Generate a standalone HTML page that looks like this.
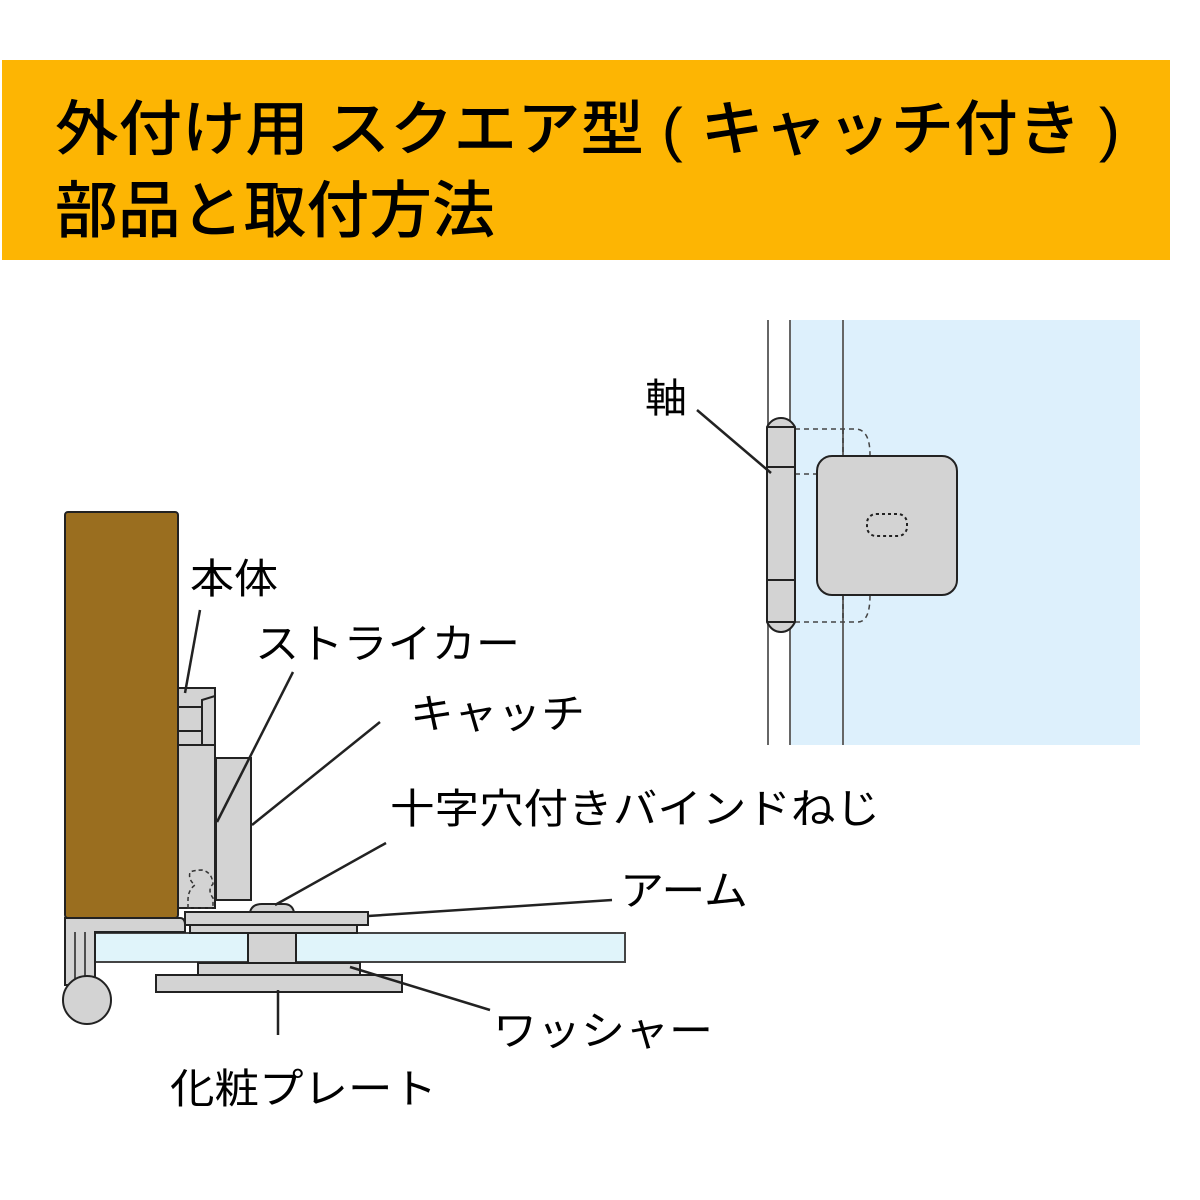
<!DOCTYPE html>
<html><head><meta charset="utf-8"><style>
html,body{margin:0;padding:0;background:#fff;}
svg{display:block;}
text{font-family:"Liberation Sans","Noto Sans CJK JP",sans-serif;fill:#000;}
</style></head><body>
<svg width="1200" height="1200" viewBox="0 0 1200 1200" xmlns="http://www.w3.org/2000/svg">
<rect x="2" y="60" width="1168" height="200" fill="#FDB503"/>
<text x="55" y="150" font-size="60" font-weight="500" textLength="1065" lengthAdjust="spacingAndGlyphs">外付け用 スクエア型 ( キャッチ付き )</text>
<text x="55" y="232" font-size="62" font-weight="500" textLength="440" lengthAdjust="spacingAndGlyphs">部品と取付方法</text>

<!-- right view -->
<rect x="790" y="320" width="350" height="425" fill="#DDF0FC"/>
<line x1="768" y1="320" x2="768" y2="745" stroke="#666" stroke-width="2"/>
<line x1="790" y1="320" x2="790" y2="745" stroke="#666" stroke-width="2"/>
<line x1="843" y1="320" x2="843" y2="745" stroke="#666" stroke-width="2"/>
<path d="M795 429 H855 Q870 429 870 455 M795 474 H817 M795 622 H858 Q870 622 870 595 M843 429 V455 M843 595 V622" fill="none" stroke="#444" stroke-width="1.5" stroke-dasharray="5,4"/>
<path d="M767 427 Q772 418 781 418 Q790 418 795 427 V622 Q790 632 781 632 Q772 632 767 622 Z" fill="#D3D3D3" stroke="#222" stroke-width="2"/>
<line x1="767" y1="427" x2="795" y2="427" stroke="#222" stroke-width="2"/>
<line x1="767" y1="467" x2="795" y2="467" stroke="#222" stroke-width="2"/>
<line x1="767" y1="580" x2="795" y2="580" stroke="#222" stroke-width="2"/>
<line x1="767" y1="622" x2="795" y2="622" stroke="#222" stroke-width="2"/>
<rect x="817" y="456" width="140" height="139" rx="15" fill="#D3D3D3" stroke="#222" stroke-width="2"/>
<rect x="867" y="514" width="40" height="22" rx="9" fill="none" stroke="#222" stroke-width="2" stroke-dasharray="3,3"/>
<text x="645" y="412" font-size="40" textLength="42" lengthAdjust="spacingAndGlyphs">軸</text>
<line x1="697" y1="410" x2="771" y2="473" stroke="#222" stroke-width="2.5"/>

<!-- left section -->
<rect x="95" y="933" width="530" height="29" fill="#E0F4FA" stroke="#444" stroke-width="2"/>
<path d="M65 918 H180 Q185 918 185 925 V932 H95 V985 H65 Z" fill="#D3D3D3" stroke="#222" stroke-width="2"/>
<line x1="75" y1="932" x2="75" y2="985" stroke="#222" stroke-width="1.5"/>
<line x1="85" y1="932" x2="85" y2="985" stroke="#222" stroke-width="1.5"/>
<circle cx="87" cy="1000" r="24" fill="#D3D3D3" stroke="#222" stroke-width="2"/>
<rect x="65" y="512" width="113" height="406" rx="3" fill="#9A6E1F" stroke="#222" stroke-width="2"/>
<rect x="178" y="688" width="37" height="57" fill="#D3D3D3" stroke="#222" stroke-width="2"/>
<path d="M202 745 V700 L215 696" fill="none" stroke="#222" stroke-width="2"/>
<line x1="178" y1="707" x2="202" y2="707" stroke="#222" stroke-width="2"/>
<line x1="178" y1="731" x2="202" y2="731" stroke="#222" stroke-width="2"/>
<rect x="178" y="745" width="37" height="163" fill="#D3D3D3" stroke="#222" stroke-width="2"/>
<rect x="216" y="758" width="35" height="142" fill="#D3D3D3" stroke="#222" stroke-width="2"/>
<path d="M188 908 V900 Q188 890 195 885 Q188 880 190 872 Q195 870 202 870 Q212 872 213 884 Q207 890 213 898 V908 Z" fill="none" stroke="#333" stroke-width="1.5" stroke-dasharray="4,3"/>
<rect x="190" y="925" width="167" height="8" fill="#D3D3D3" stroke="#222" stroke-width="2"/>
<rect x="185" y="912" width="183" height="13" fill="#D3D3D3" stroke="#222" stroke-width="2"/>
<path d="M250 912 Q252 904 262 904 H284 Q292 904 294 912 Z" fill="#D3D3D3" stroke="#222" stroke-width="2"/>
<rect x="248" y="933" width="48" height="30" fill="#D3D3D3" stroke="#222" stroke-width="2"/>
<rect x="198" y="963" width="162" height="12" fill="#D3D3D3" stroke="#222" stroke-width="2"/>
<rect x="156" y="975" width="246" height="17" fill="#D3D3D3" stroke="#222" stroke-width="2"/>

<g stroke="#222" stroke-width="2.5">
<line x1="200" y1="610" x2="185" y2="693"/>
<line x1="293" y1="672" x2="217" y2="822"/>
<line x1="380" y1="722" x2="252" y2="825"/>
<line x1="386" y1="843" x2="275" y2="905"/>
<line x1="612" y1="900" x2="368" y2="916"/>
<line x1="490" y1="1010" x2="350" y2="967"/>
<line x1="278" y1="990" x2="278" y2="1035"/>
</g>
<g font-size="41" lengthAdjust="spacingAndGlyphs">
<text x="190" y="593" textLength="88" lengthAdjust="spacingAndGlyphs">本体</text>
<text x="255" y="658" textLength="265" lengthAdjust="spacingAndGlyphs">ストライカー</text>
<text x="410" y="728" textLength="175" lengthAdjust="spacingAndGlyphs">キャッチ</text>
<text x="390" y="823" textLength="490" lengthAdjust="spacingAndGlyphs">十字穴付きバインドねじ</text>
<text x="620" y="905" textLength="128" lengthAdjust="spacingAndGlyphs">アーム</text>
<text x="493" y="1045" textLength="220" lengthAdjust="spacingAndGlyphs">ワッシャー</text>
<text x="170" y="1103" textLength="267" lengthAdjust="spacingAndGlyphs">化粧プレート</text>
</g>
</svg>
</body></html>
